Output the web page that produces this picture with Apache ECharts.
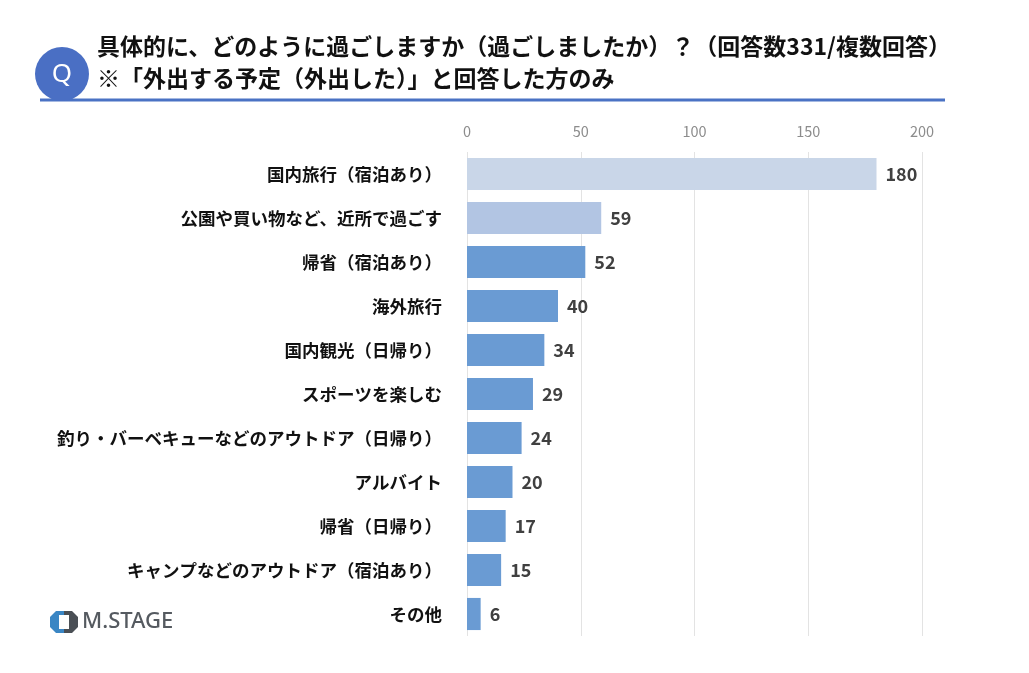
<!DOCTYPE html>
<html><head><meta charset="utf-8">
<script src="https://cdn.jsdelivr.net/npm/echarts@6/dist/echarts.min.js"></script>
<style>html,body{margin:0;padding:0;background:#fff}#c{width:1029px;height:673px}</style>
</head><body><div id="c"></div>
<script>
const categories = ['国内旅行（宿泊あり）','公園や買い物など、近所で過ごす','帰省（宿泊あり）','海外旅行','国内観光（日帰り）','スポーツを楽しむ','釣り・バーベキューなどのアウトドア（日帰り）','アルバイト','帰省（日帰り）','キャンプなどのアウトドア（宿泊あり）','その他'];
const values = [180,59,52,40,34,29,24,20,17,15,6];
const axisTicks = [0,50,100,150,200];
const titleLine1 = '具体的に、どのように過ごしますか（過ごしましたか）？（回答数331/複数回答）';
const titleLine2 = '※「外出する予定（外出した）」と回答した方のみ';
const barColors = ['#c9d6e8','#b2c5e3','#6a9bd3'];

const font = '"Noto Sans CJK JP","Noto Sans",sans-serif';
const chart = echarts.init(document.getElementById('c'));
chart.setOption({
  backgroundColor:'#fff',
  animation:false,
  grid:{left:467,right:107,top:152,bottom:37,containLabel:false},
  xAxis:{type:'value',position:'top',min:axisTicks[0],max:axisTicks[axisTicks.length-1],interval:50,
    axisLine:{show:false},axisTick:{show:false},
    axisLabel:{color:'#8c8c8c',fontSize:14.5,fontFamily:font,margin:13},
    splitLine:{lineStyle:{color:'#e3e3e3',width:1}}},
  yAxis:{type:'category',inverse:true,data:categories,
    axisLine:{show:false},axisTick:{show:false},
    axisLabel:{color:'#111',fontSize:17.5,fontWeight:'bold',fontFamily:font,margin:25}},
  series:[{type:'bar',barCategoryGap:'27%',
    data:values.map((v,i)=>({value:v,itemStyle:{color:barColors[Math.min(i,2)]}})),
    label:{show:true,position:'right',distance:9,color:'#404040',fontSize:18,fontWeight:'bold',fontFamily:font}}],
  graphic:[
    {type:'line',shape:{x1:40,y1:100,x2:945,y2:100},style:{stroke:'#4a72c4',lineWidth:3}},
    {type:'circle',shape:{cx:62,cy:74,r:27},style:{fill:'#4a6fc4'}},
    {type:'text',x:62,y:75,style:{text:'Q',fill:'#fff',font:'26px "Noto Sans",sans-serif',align:'center',verticalAlign:'middle'}},
    {type:'text',x:97,y:46,style:{text:titleLine1,fill:'#111',font:'bold 23px '+font,verticalAlign:'middle'}},
    {type:'text',x:97,y:78,style:{text:titleLine2,fill:'#111',font:'bold 23px '+font,verticalAlign:'middle'}},
    {type:'polygon',shape:{points:[[56,611],[64,611],[64,633],[56,633],[50,627],[50,617]]},style:{fill:'#3a86c4'}},
    {type:'polygon',shape:{points:[[64,611],[72,611],[78,617],[78,627],[72,633],[64,633]]},style:{fill:'#4a4f55'}},
    {type:'rect',shape:{x:59,y:615,width:10,height:14},style:{fill:'#fff'}},
    {type:'text',x:82,y:622,style:{text:'M.STAGE',fill:'#555a60',font:'500 22px "Noto Sans",sans-serif',verticalAlign:'middle'}}
  ]
});
</script></body></html>
